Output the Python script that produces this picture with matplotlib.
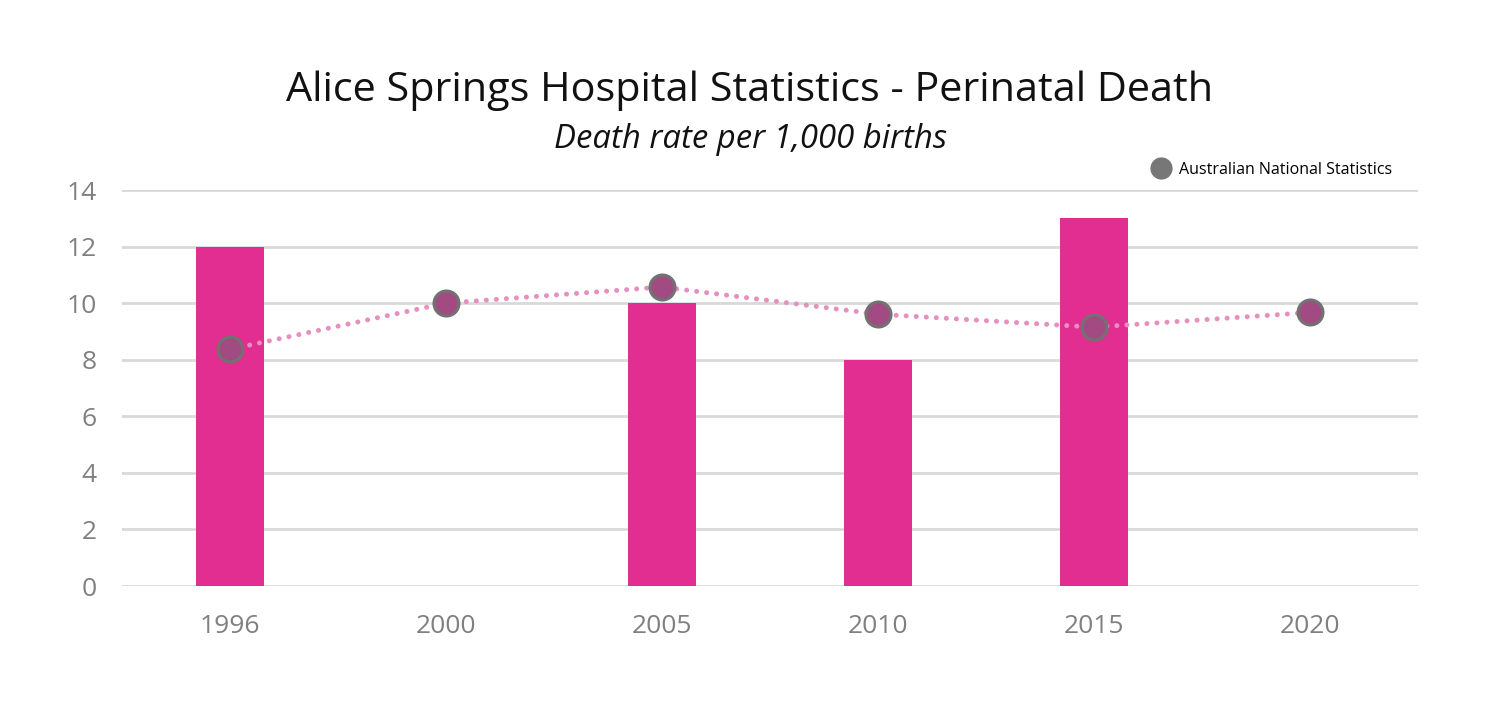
import matplotlib.pyplot as plt
from matplotlib.lines import Line2D
import numpy as np

# Alice Springs perinatal death rate vs national figures

years = ['1996', '2000', '2005', '2010', '2015', '2020']
hospital_rate = [12, 0, 10, 8, 13, 0]
national_rate = [8.37, 10.0, 10.57, 9.61, 9.15, 9.67]
y_ticks = [0, 2, 4, 6, 8, 10, 12, 14]

plt.rcParams['font.family'] = ['Open Sans', 'DejaVu Sans']

fig = plt.figure(figsize=(15, 7.08), dpi=100)
ax = fig.add_axes([122 / 1500, (708 - 586) / 708, 1296 / 1500, 396 / 708])

x = np.arange(len(years))
ax.bar(x, hospital_rate, width=0.315, color='#e22d91', zorder=2)
ax.plot(x, national_rate, color='#e68fc0', lw=3.6,
        linestyle=(0, (0.01, 2.0)), dash_capstyle='round', zorder=3)
ax.plot(x, national_rate, linestyle='none', marker='o', markersize=18,
        markerfacecolor='#a24a82', markeredgecolor='#727272',
        markeredgewidth=2.2, zorder=4)

ax.set_xlim(-0.5, len(years) - 0.5)
ax.set_ylim(0, 14)
ax.set_xticks(x)
ax.set_xticklabels(years)
ax.set_yticks(y_ticks)
ax.tick_params(axis='both', length=0, labelsize=19, labelcolor='#808080')
ax.tick_params(axis='x', pad=20)
ax.tick_params(axis='y', pad=18)
ax.grid(axis='y', color='#d9d9d9', lw=2, zorder=0)
ax.set_axisbelow(True)
for s in ax.spines.values():
    s.set_visible(False)

fig.text(0.5, 1 - 91 / 708, 'Alice Springs Hospital Statistics - Perinatal Death',
         ha='center', va='center', fontsize=29.8, color='#111111')
fig.text(0.5, 1 - 140 / 708, 'Death rate per 1,000 births', ha='center',
         va='center', fontsize=23.7, style='italic', color='#111111')

handle = Line2D([], [], linestyle='none', marker='o', markersize=15,
                markerfacecolor='#777777', markeredgecolor='#777777')
fig.legend([handle], ['Australian National Statistics'], loc='center right',
           bbox_to_anchor=(1400 / 1500, 1 - 170 / 708), frameon=False,
           fontsize=11.5, handletextpad=0.5, borderpad=0, handlelength=1.2)

fig.savefig('out.png', dpi=100)
